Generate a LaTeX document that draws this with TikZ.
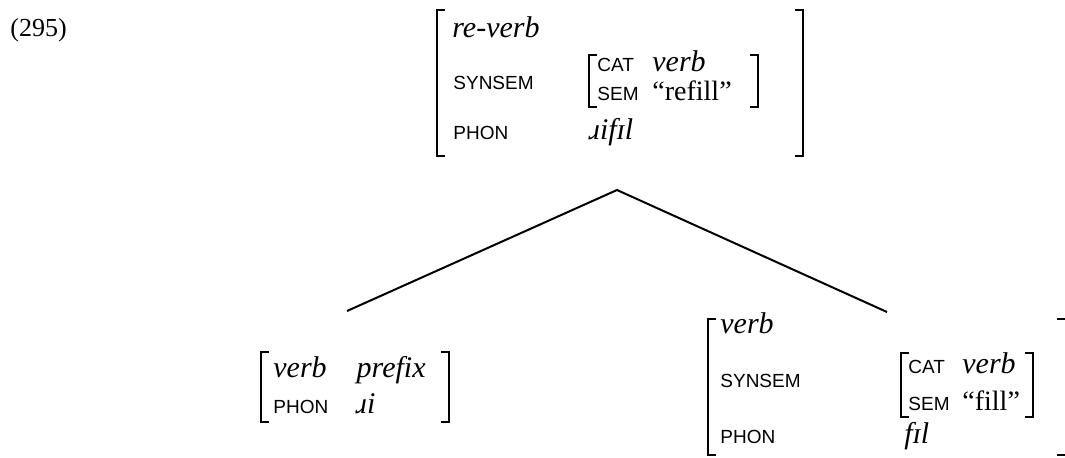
\documentclass[tikz,border=0pt]{standalone}
\usepackage{fontspec}
\setmainfont{Liberation Serif}
\newfontfamily\lblfont{Liberation Sans}
\usetikzlibrary{positioning,calc}
\tikzset{
  num/.style={anchor=base west,inner sep=0pt,font=\fontsize{13}{15}\selectfont},
  lbl/.style={anchor=base west,inner sep=0pt,font=\lblfont\fontsize{9.5}{12}\selectfont},
  val/.style={anchor=base west,inner sep=0pt,font=\fontsize{15}{17}\selectfont\itshape},
  txt/.style={anchor=base west,inner sep=0pt,font=\fontsize{14}{16}\selectfont},
  brk/.style={line width=1.2pt},
  branch/.style={line width=1pt}
}
% brackets: x, top, bottom
\newcommand{\avmL}[3]{\draw[brk] (#1+8,#2) -- (#1,#2) -- (#1,#3) -- (#1+8,#3);}
\newcommand{\avmR}[3]{\draw[brk] (#1-8,#2) -- (#1,#2) -- (#1,#3) -- (#1-8,#3);}
\begin{document}
\begin{tikzpicture}[x=0.5pt,y=-0.5pt]
  \useasboundingbox (0,0) rectangle (1065,457);
  \node[num] (exno) at (10,36) {(295)};
  % mother
  \node[val] (mtype) at (452,37) {re-verb};
  \node[lbl] (msyn) at (453,89) {SYNSEM};
  \node[lbl] (mcat) at (597,71) {CAT};
  \node[val] (mcatv) at (652,71) {verb};
  \node[lbl] (msem) at (597,100) {SEM};
  \node[txt] (msemv) at (652,100) {“refill”};
  \node[lbl] (mphon) at (453,139) {PHON};
  \node[val] (mphonv) at (588,139) {ɹifɪl};
  \avmL{437}{10}{156}
  \avmL{589}{55}{107}
  \avmR{758}{55}{107}
  \avmR{803}{10}{156}
  % branches
  \coordinate (apex) at (617,190);
  \coordinate (ltop) at (347,311);
  \coordinate (rtop) at (887,312);
  \draw[branch] (ltop) -- (apex) -- (rtop);
  % prefix daughter
  \node[val] (ptype) at (273,377) {verb\quad prefix};
  \node[lbl] (pphon) at (273,413) {PHON};
  \node[val] (pphonv) at (355,413) {ɹi};
  \avmL{261}{352}{422}
  \avmR{449}{352}{422}
  % verb daughter
  \node[val] (dtype) at (720,333) {verb};
  \node[lbl] (dsyn) at (720,387) {SYNSEM};
  \node[lbl] (dcat) at (908,373) {CAT};
  \node[val] (dcatv) at (962,373) {verb};
  \node[lbl] (dsem) at (908,410) {SEM};
  \node[txt] (dsemv) at (962,410) {“fill”};
  \node[lbl] (dphon) at (720,443) {PHON};
  \node[val] (dphonv) at (904,443) {fɪl};
  \avmL{901}{353}{417}
  \avmL{708}{319}{455}
  \avmR{1033}{353}{417}
  \draw[brk] (1057,319) -- (1065,319);
  \draw[brk] (1057,455) -- (1065,455);
\end{tikzpicture}
\end{document}
